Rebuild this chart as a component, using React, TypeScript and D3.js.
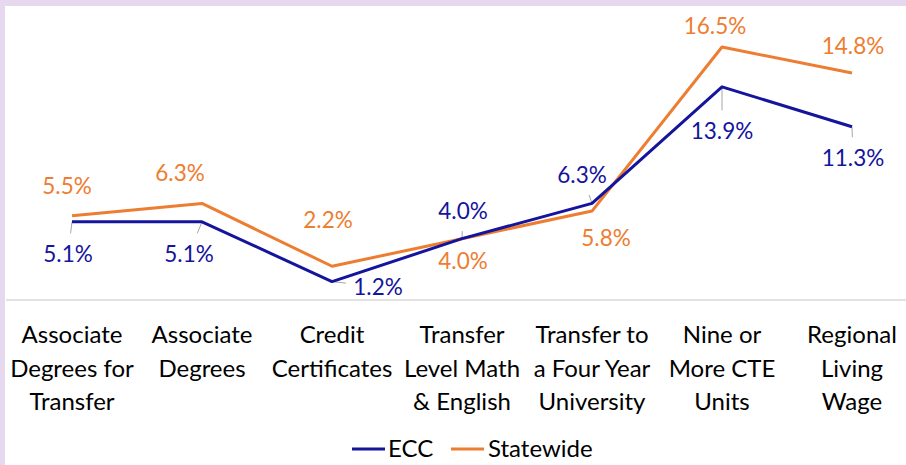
import React from "react";
import * as d3 from "d3";

const categories: string[][] = [
  ["Associate", "Degrees for", "Transfer"],
  ["Associate", "Degrees"],
  ["Credit", "Certificates"],
  ["Transfer", "Level Math", "& English"],
  ["Transfer to", "a Four Year", "University"],
  ["Nine or", "More CTE", "Units"],
  ["Regional", "Living", "Wage"],
];
const eccValues = [5.1, 5.1, 1.2, 4.0, 6.3, 13.9, 11.3];
const statewideValues = [5.5, 6.3, 2.2, 4.0, 5.8, 16.5, 14.8];
const seriesNames = ["ECC", "Statewide"];

// label placement offsets (layout only)
const eccLabelOffsets: [number, number][] = [
  [-4, 32], [-13, 32], [46, 5], [1, -28], [-10, -29], [0, 44], [1, 31],
];
const stateLabelOffsets: [number, number][] = [
  [-5, -30], [-22, -31], [-4, -47], [1, 22], [14, 26], [-7, -22], [1, -28],
];

const W = 906;
const H = 465;
const BLUE = "#14149c";
const ORANGE = "#ED7D31";
const FONT = "Lato, 'Liberation Sans', sans-serif";
const FS = 22.5;
const FS_CAT = 24;

export default function App() {
  const keys = categories.map((c) => c.join(" "));
  const x = d3.scalePoint<string>().domain(keys).range([72, 852]);
  const y = d3.scaleLinear().domain([0, 18]).range([300, 24]);
  const line = d3
    .line<number>()
    .x((_, i) => x(keys[i]) as number)
    .y((d) => y(d));

  const fmt = (v: number) => v.toFixed(1) + "%";

  const leader = (px: number, py: number, lx: number, ly: number) => {
    const hw = 26 + 6;
    const hh = 8.5 + 12;
    const dx = lx - px;
    const dy = ly - py;
    const tx = dx === 0 ? Infinity : (Math.abs(dx) - hw) / Math.abs(dx);
    const ty = dy === 0 ? Infinity : (Math.abs(dy) - hh) / Math.abs(dy);
    let t = Math.min(tx < 0 ? Infinity : tx, ty < 0 ? Infinity : ty);
    if (!isFinite(t)) t = Math.max(tx, ty);
    if (t <= 0) return null;
    const ex = px + dx * t;
    const ey = py + dy * t;
    if (Math.hypot(ex - px, ey - py) < 5) return null;
    return { x1: px, y1: py, x2: ex, y2: ey };
  };

  return (
    <svg
      width={W}
      height={H}
      style={{ position: "absolute", left: 0, top: 0, display: "block" }}
      fontFamily={FONT}
    >
      <rect x={0} y={0} width={W} height={H} fill="#ffffff" />
      <rect x={0} y={0} width={W} height={6} fill="#e5d8ef" />
      <rect x={0} y={0} width={5} height={H} fill="#e5d8ef" />

      {/* baseline */}
      <line x1={6} x2={W} y1={y(0)} y2={y(0)} stroke="#d9d9d9" strokeWidth={1.5} />

      {/* leader lines for ECC */}
      {eccValues.map((v, i) => {
        const px = x(keys[i]) as number;
        const py = y(v);
        const l = leader(px, py, px + eccLabelOffsets[i][0], py + eccLabelOffsets[i][1]);
        if (!l) return null;
        return (
          <line key={"ld" + i} x1={l.x1} y1={l.y1} x2={l.x2} y2={l.y2} stroke="#a6a6a6" strokeWidth={1} />
        );
      })}

      <path d={line(statewideValues) || ""} fill="none" stroke={ORANGE} strokeWidth={3} strokeLinejoin="round" />
      <path d={line(eccValues) || ""} fill="none" stroke={BLUE} strokeWidth={3} strokeLinejoin="round" />

      {statewideValues.map((v, i) => (
        <text
          key={"sl" + i}
          x={(x(keys[i]) as number) + stateLabelOffsets[i][0]}
          y={y(v) + stateLabelOffsets[i][1]}
          textAnchor="middle"
          dominantBaseline="central"
          fontSize={FS}
          fill={ORANGE}
        >
          {fmt(v)}
        </text>
      ))}
      {eccValues.map((v, i) => (
        <text
          key={"el" + i}
          x={(x(keys[i]) as number) + eccLabelOffsets[i][0]}
          y={y(v) + eccLabelOffsets[i][1]}
          textAnchor="middle"
          dominantBaseline="central"
          fontSize={FS}
          fill={BLUE}
        >
          {fmt(v)}
        </text>
      ))}

      {/* category labels */}
      {categories.map((lines, i) => (
        <text key={"c" + i} x={x(keys[i]) as number} y={343} textAnchor="middle" fontSize={FS_CAT} fill="#000">
          {lines.map((ln, j) => (
            <tspan key={j} x={x(keys[i]) as number} y={343 + j * 33.5}>
              {ln}
            </tspan>
          ))}
        </text>
      ))}

      {/* legend */}
      <line x1={352} x2={385} y1={449} y2={449} stroke={BLUE} strokeWidth={3} />
      <text x={388} y={457} fontSize={FS_CAT} fill="#000">
        {seriesNames[0]}
      </text>
      <line x1={451} x2={484} y1={449} y2={449} stroke={ORANGE} strokeWidth={3} />
      <text x={488} y={457} fontSize={FS_CAT} fill="#000">
        {seriesNames[1]}
      </text>
    </svg>
  );
}
